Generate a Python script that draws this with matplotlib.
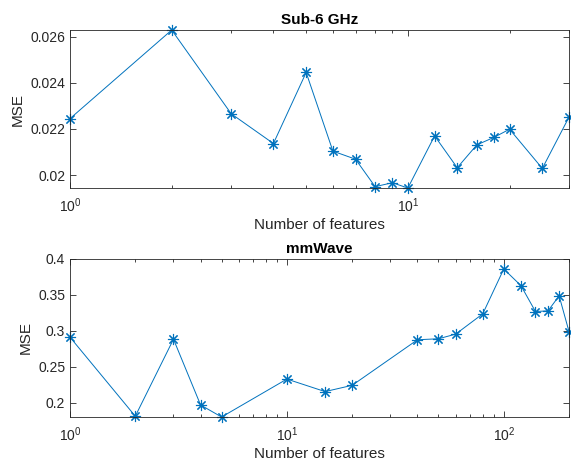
import numpy as np
import matplotlib
matplotlib.use("Agg")
import matplotlib.pyplot as plt
from matplotlib.ticker import LogLocator, FixedLocator, FuncFormatter, NullFormatter

plt.rcParams['font.family'] = ['Liberation Sans', 'DejaVu Sans']

# Sub-6 GHz
sub6_feat = [1, 2, 3, 4, 5, 6, 7, 8, 9, 10, 12, 14, 16, 18, 20, 25, 30]
sub6_mse = [0.02245, 0.02629, 0.02266, 0.02137, 0.02445, 0.02104, 0.02069, 0.0195,
            0.01967, 0.01944, 0.0217, 0.02032, 0.02131, 0.02164, 0.02199, 0.02029, 0.02252]

# mmWave
mmw_feat = [1, 2, 3, 4, 5, 10, 15, 20, 40, 50, 60, 80, 100, 120, 140, 160, 180, 200]
mmw_mse = [0.2914, 0.1816, 0.2886, 0.1972, 0.1805, 0.2332, 0.2158, 0.2245, 0.2878,
           0.2892, 0.2956, 0.3238, 0.3861, 0.363, 0.327, 0.328, 0.3488, 0.2989]

sub6_yticks = [0.02, 0.022, 0.024, 0.026]
mmw_yticks = [0.2, 0.25, 0.3, 0.35, 0.4]

blue = '#0072BD'
dark = '#262626'
asterisk = (8, 2, 0)  # like matlab '*'

fig = plt.figure(figsize=(5.71, 4.62), dpi=100)
ax1 = fig.add_axes([0.1226, 0.593, 0.874, 0.342])
ax2 = fig.add_axes([0.1226, 0.0974, 0.874, 0.342])

def style(ax, xlim, ylim, yticks, title):
    ax.set_xscale('log')
    ax.set_xlim(*xlim)
    ax.set_ylim(*ylim)
    ax.yaxis.set_major_locator(FixedLocator(yticks))
    ax.yaxis.set_major_formatter(FuncFormatter(lambda v, p: ('%g' % v)))
    ax.xaxis.set_major_locator(LogLocator(base=10))
    ax.xaxis.set_minor_locator(LogLocator(base=10, subs=np.arange(2, 10)))
    ax.xaxis.set_minor_formatter(NullFormatter())
    ax.tick_params(which='both', direction='in', top=True, right=True,
                   colors=dark, labelsize=10, width=0.6)
    ax.tick_params(which='major', length=4)
    ax.tick_params(which='minor', length=2.2)
    ax.tick_params(axis='x', which='major', pad=6)
    for s in ax.spines.values():
        s.set_color(dark)
        s.set_linewidth(0.6)
    ax.set_xlabel('Number of features', fontsize=11, color=dark, labelpad=2)
    ax.set_ylabel('MSE', fontsize=11, color=dark, labelpad=4)
    ax.set_title(title, fontsize=11, fontweight='bold', color='black', pad=4)

ax1.plot(sub6_feat, sub6_mse, color=blue, lw=0.7, marker=asterisk, ms=8, mew=0.8)
style(ax1, (1, 30), (min(sub6_mse), max(sub6_mse)), sub6_yticks, 'Sub-6 GHz')

ax2.plot(mmw_feat, mmw_mse, color=blue, lw=0.7, marker=asterisk, ms=8, mew=0.8)
style(ax2, (1, 200), (min(mmw_mse), 0.4), mmw_yticks, 'mmWave')

for ax in (ax1, ax2):
    for ln in ax.lines:
        ln.set_clip_on(False)

fig.savefig('out.png', dpi=100)
